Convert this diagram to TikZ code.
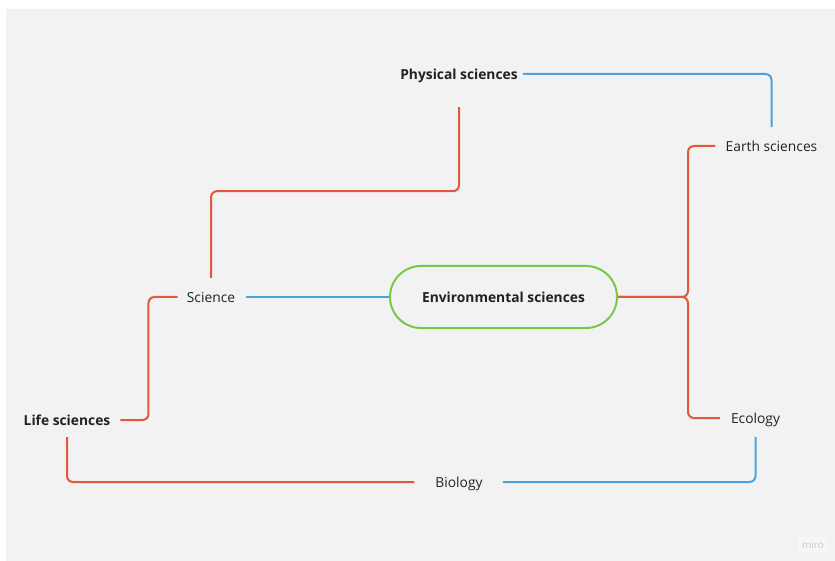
\documentclass[tikz,border=0pt]{standalone}
\usepackage{fontspec}
\setmainfont{Open Sans}
\definecolor{bgc}{RGB}{242,242,242}
\definecolor{redc}{RGB}{226,88,58}
\definecolor{bluec}{RGB}{74,163,221}
\definecolor{greenc}{RGB}{118,200,72}
\definecolor{txtc}{RGB}{34,34,34}
\begin{document}
\begin{tikzpicture}[x=1pt,y=-1pt,
  lbl/.style={inner sep=0pt, text height=11pt, text depth=0pt, font=\fontsize{13.8}{16}\selectfont, text=txtc},
  blbl/.style={lbl, font=\fontsize{13.8}{16}\selectfont\bfseries},
  envbox/.style={draw=greenc, line width=2pt, rounded corners=31pt, minimum width=227pt, minimum height=62pt, inner sep=0pt, fill=bgc, text height=11pt, text depth=0pt, font=\fontsize{13.8}{16}\selectfont\bfseries, text=txtc},
  rl/.style={draw=redc, line width=2pt, rounded corners=6pt},
  bl/.style={draw=bluec, line width=2pt, rounded corners=6pt}]
\fill[white] (0,0) rectangle (835,561);
\fill[bgc] (6,9) rectangle (835,561);
\useasboundingbox (0,0) rectangle (835,561);

\node[blbl] (phys) at (459,74) {Physical sciences};
\node[lbl] (earth) at (771.5,146) {Earth sciences};
\node[envbox] (env) at (503.5,297) {Environmental sciences};
\node[lbl] (sci) at (211,297) {Science};
\node[blbl] (life) at (67,420) {Life sciences};
\node[lbl] (eco) at (755.5,418) {Ecology};
\node[lbl] (bio) at (459,482) {Biology};
\node[fill={rgb,255:red,246;green,246;blue,246}, text={rgb,255:red,200;green,200;blue,200}, font=\fontsize{10}{11}\selectfont, inner sep=4pt] (miro) at (813,545) {miro};

% physical -> earth (blue)
\draw[bl] ([xshift=5pt]phys.east) -| ([yshift=13.5pt]earth.north);
% physical -> science (red)
\draw[rl] ([yshift=-27.5pt]phys.south) -- ++(0,84) -| ([yshift=13.5pt]sci.north);
% life -> science (red)
\draw[rl] ([xshift=10pt]life.east) -- ++(28,0) |- ([xshift=-9pt]sci.west);
% science -> env (blue)
\draw[bl] ([xshift=11pt]sci.east) -- (env.west);
% env -> earth / ecology (red)
\draw[rl] (env.east) -- ++(70,0) |- ([xshift=-10pt]earth.west);
\draw[rl] (env.east) -- ++(70,0) |- ([xshift=-11pt]eco.west);
% life -> biology (red)
\draw[rl] ([yshift=-11.5pt]life.south) |- ([xshift=-21pt]bio.west);
% biology -> ecology (blue)
\draw[bl] ([xshift=20pt]bio.east) -| ([yshift=-13.5pt]eco.south);
\end{tikzpicture}
\end{document}
